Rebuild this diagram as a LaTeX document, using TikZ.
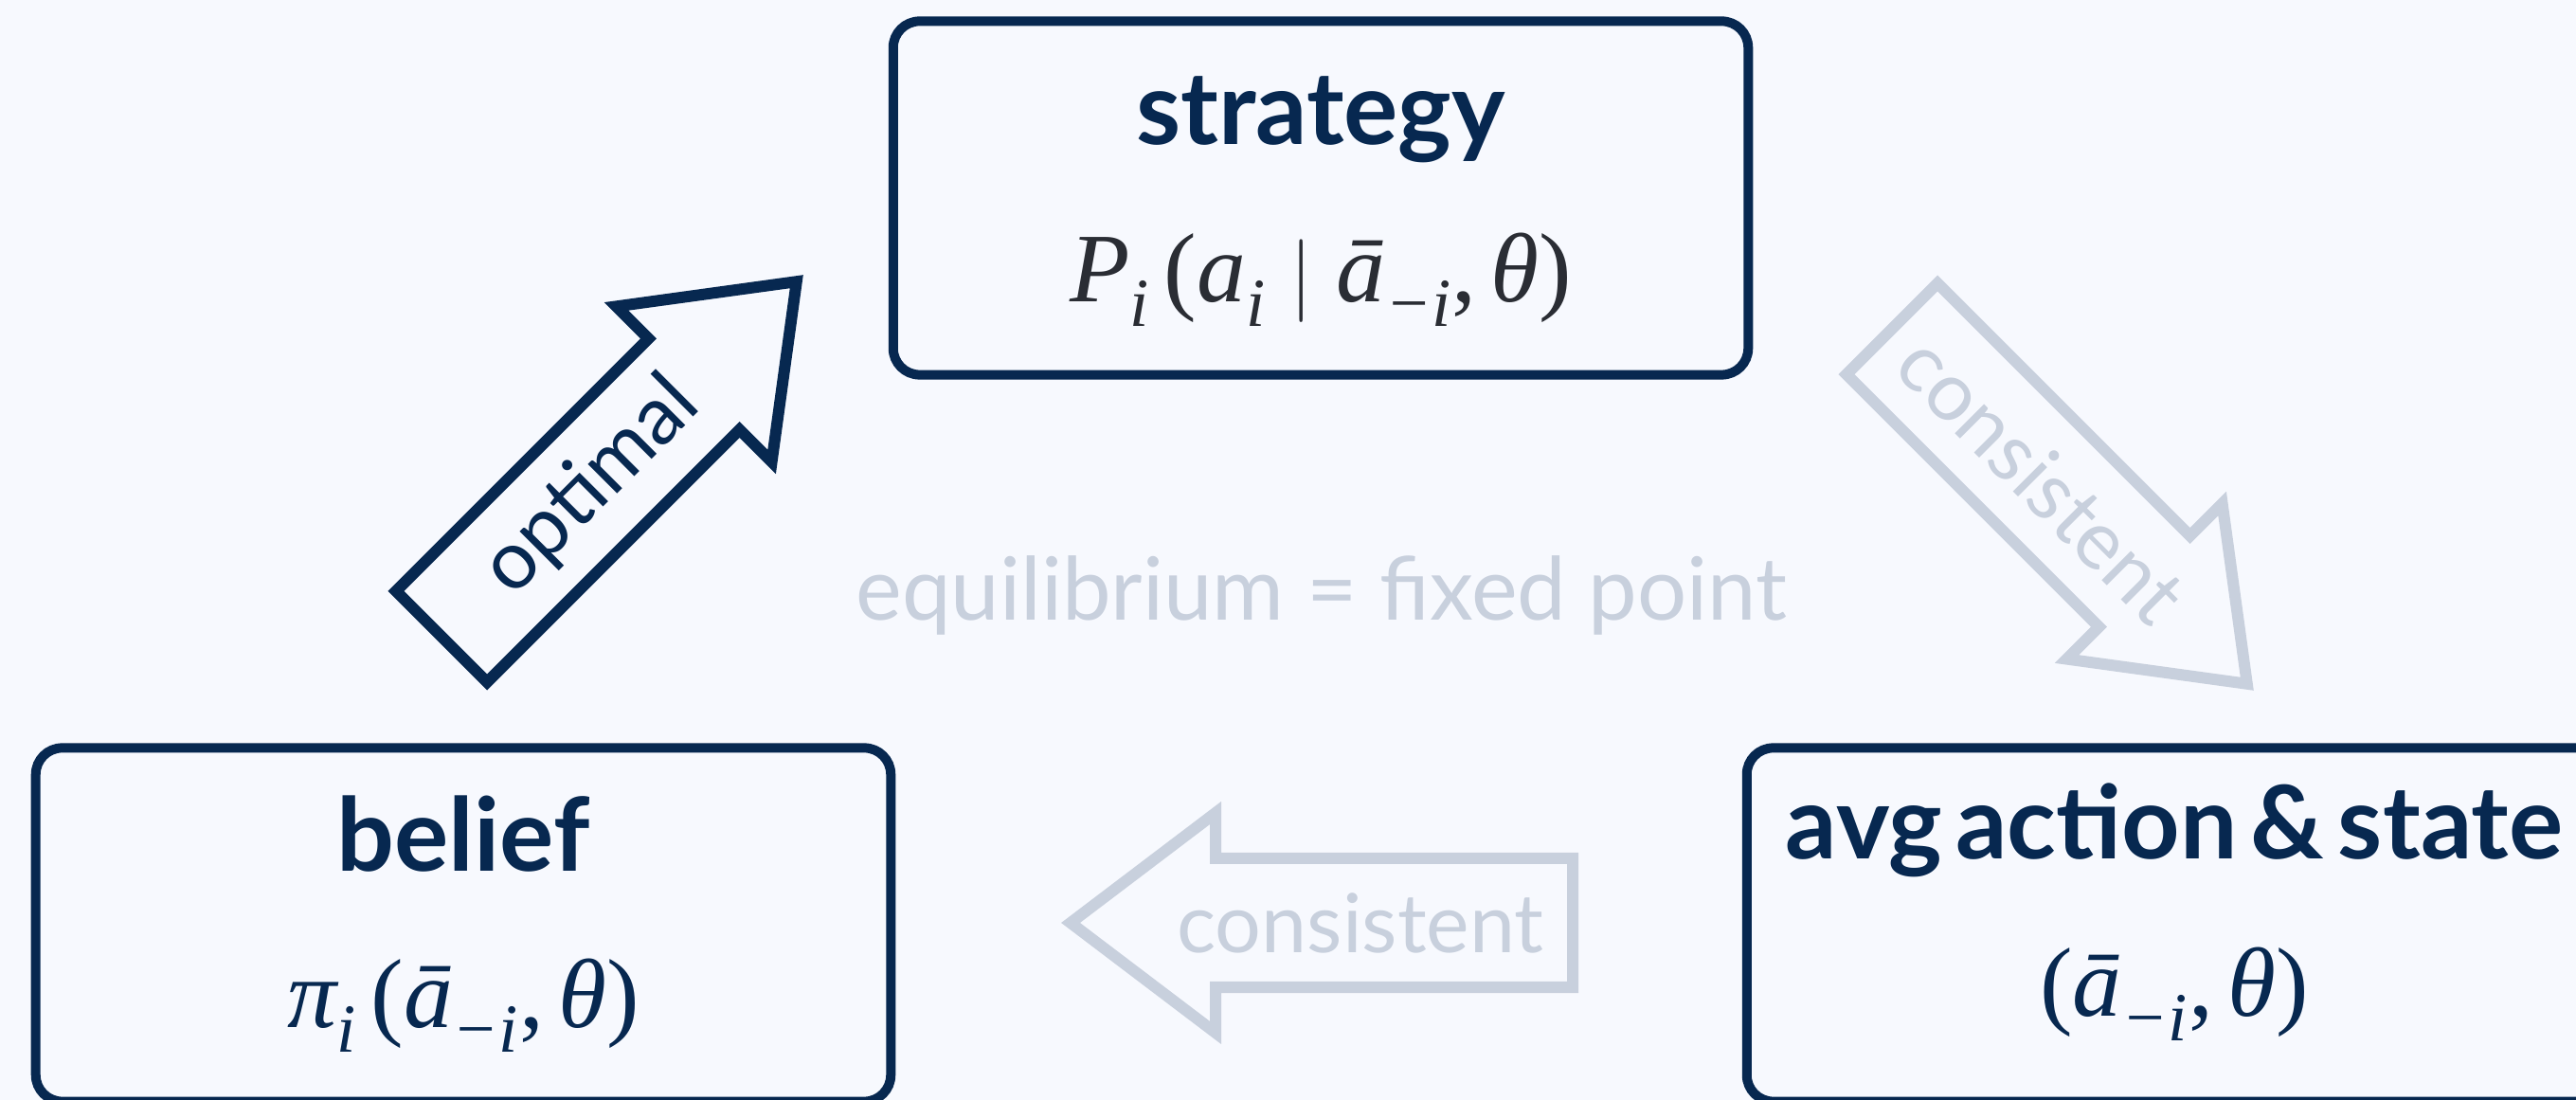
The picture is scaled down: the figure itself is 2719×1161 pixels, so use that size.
\documentclass[tikz,border=0pt]{standalone}
\usepackage{amsmath}
\usepackage[no-math]{fontspec}
\setmainfont{Lato}
\newfontfamily\headfont[WordSpace=0.55]{Lato}
\newfontfamily\mathserif{Liberation Serif}
\usepackage{tikz}
\usetikzlibrary{arrows.meta,positioning}

\definecolor{navy}{HTML}{072850}
\definecolor{mist}{HTML}{C8D0DD}
\definecolor{ink}{HTML}{2A2D34}
\definecolor{paper}{HTML}{F7F9FE}

% serif letters inside math: italic, upright, lowered subscript
\newcommand{\tv}[1]{\text{\mathserif\itshape #1}}
\newcommand{\tu}[1]{\text{\mathserif #1}}
\newcommand{\tsub}[1]{_{\text{\raisebox{-0.18em}{\mathserif\itshape #1}}}}

\tikzset{
  stage/.style={draw=navy,line width=0.1cm,rounded corners=0.28cm,
    minimum width=9.02cm,minimum height=3.73cm,inner sep=0pt},
  heading/.style={anchor=base,text=navy,font=\headfont\fontsize{30.5}{36}\selectfont\bfseries},
  formula/.style={anchor=base,text=navy,font=\fontsize{29.5}{35}\selectfont},
  note/.style={anchor=base,text=mist,font=\fontsize{26.2}{31}\selectfont},
  label/.style={font=\fontsize{24.5}{29}\selectfont}
}

% block arrow: tail point, direction, colour, text angle, text
\newcommand{\flowarrow}[5]{%
  \begin{scope}[shift={(#1)},rotate=#2]
    \draw[line width=0.12cm,draw=#3] (0,68) -- (377,68) -- (377,116) -- (530,0)
      -- (377,-116) -- (377,-68) -- (0,-68) -- cycle;
    \node[label,text=#3,rotate=#4] (#1 text) at (224,0) {#5};
  \end{scope}}

\begin{document}
\begin{tikzpicture}[x=0.01cm,y=0.01cm]
\useasboundingbox[fill=paper] (0,0) rectangle (2719,1161);
\clip (0,0) rectangle (2719,1161);

% stages
\node[stage] (strategy) at (1394,952) {};
\node[stage] (belief) at (489,185) {};
\node[stage] (avg) at (2295,185) {};

\node[heading] (strategy title) at ([yshift=-1.35cm]strategy.north) {strategy};
\node[formula,text=ink] (strategy formula) at ([yshift=-3.01cm]strategy.north)
  {$\tv{P}\tsub{i}\,\tu{(}\tv{a}\tsub{i} \mid \tv{ā}\tsub{−i}\tu{,}\,\tv{θ}\tu{)}$};
\node[heading] (belief title) at ([yshift=-1.35cm]belief.north) {belief};
\node[formula] (belief formula) at ([yshift=-3.0cm]belief.north)
  {$\tv{π}\tsub{i}\,\tu{(}\tv{ā}\tsub{−i}\tu{,}\,\tv{θ}\tu{)}$};
\node[heading] (avg title) at ([yshift=-1.22cm]avg.north) {avg action \& state};
\node[formula] (avg formula) at ([yshift=-2.88cm]avg.north)
  {$\tu{(}\tv{ā}\tsub{−i}\tu{,}\,\tv{θ}\tu{)}$};

\node[note] (fixed point) at (1395,506) {equilibrium = fixed point};

% arrows between stages
\coordinate (up tail) at (466,489);
\coordinate (down tail) at (1997,814);
\coordinate (back tail) at (1660,187);

\flowarrow{up tail}{45}{navy}{45}{optimal}
\flowarrow{down tail}{-45}{mist}{-45}{consistent}
\flowarrow{back tail}{180}{mist}{0}{consistent}
\end{tikzpicture}
\end{document}
